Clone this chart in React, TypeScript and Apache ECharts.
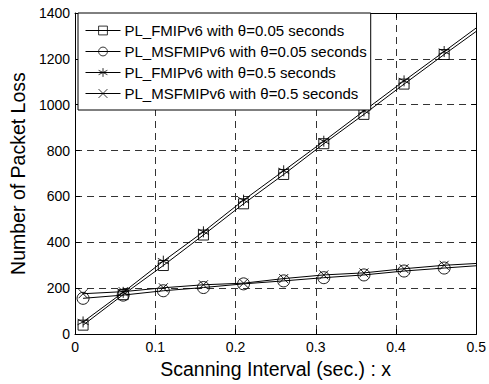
import React, { useEffect, useRef } from "react";
import * as echarts from "echarts";

const xValues = [0.01, 0.06, 0.11, 0.16, 0.21, 0.26, 0.31, 0.36, 0.41, 0.46, 0.5];
const fmipLow = [39, 172, 299, 432, 568, 696, 830, 958, 1090, 1219, 1320];
const msfmipLow = [156, 170, 189, 203, 219, 232, 246, 258, 275, 288, 298];
const fmipHigh = [53, 182, 318, 446, 584, 712, 841, 973, 1104, 1232, 1335];
const msfmipHigh = [176, 185, 202, 215, 222, 242, 258, 267, 285, 300, 308];
const seriesNames = [
  "PL_FMIPv6 with \u03b8=0.05 seconds",
  "PL_MSFMIPv6 with \u03b8=0.05 seconds",
  "PL_FMIPv6 with \u03b8=0.5 seconds",
  "PL_MSFMIPv6 with \u03b8=0.5 seconds",
];
const xTicks = [0, 0.1, 0.2, 0.3, 0.4, 0.5];
const yTicks = [0, 200, 400, 600, 800, 1000, 1200, 1400];

const STAR = "path://M0,-10L0,10M-8.66,-5L8.66,5M-8.66,5L8.66,-5";
const CROSS = "path://M-7,-7L7,7M-7,7L7,-7";

export default function App() {
  const ref = useRef<HTMLDivElement>(null);
  useEffect(() => {
    if (!ref.current) return;
    const chart = echarts.init(ref.current, undefined, { renderer: "svg" });
    const font = "Liberation Sans, Arial, sans-serif";
    const mk = (name: string, vals: number[], symbol: string, size: number) => ({
      name,
      type: "line",
      symbol,
      symbolSize: size,
      showAllSymbol: true,
      data: vals.map((v, i) =>
        i === vals.length - 1 ? { value: [xValues[i], v], symbol: "none" } : { value: [xValues[i], v] }
      ),
      lineStyle: { color: "#000", width: 1 },
      itemStyle: { color: "rgba(0,0,0,0)", borderColor: "#000", borderWidth: 0.9 },
      emphasis: { disabled: true },
    });
    const axisCommon = {
      axisLine: { show: true, onZero: false, lineStyle: { color: "#000", width: 1 } },
      axisTick: { show: true, inside: true, length: 5, lineStyle: { color: "#000" } },
    };
    chart.setOption({
      animation: false,
      backgroundColor: "#fff",
      grid: { left: 75, right: 12, top: 13, bottom: 45 },
      legend: {
        orient: "vertical",
        left: 78,
        top: 13,
        data: seriesNames,
        itemWidth: 35,
        itemHeight: 11,
        itemGap: 6,
        padding: [10, 4, 9, 7],
        borderColor: "#000",
        borderWidth: 1,
        backgroundColor: "#fff",
        lineStyle: { width: 1 },
        itemStyle: { borderWidth: 0.8 },
        textStyle: { fontFamily: font, fontSize: 15, color: "#000", padding: [0, 0, 0, -1], lineHeight: 15 },
        selectedMode: false,
      },
      xAxis: [
        {
          type: "value",
          min: 0,
          max: 0.5,
          interval: 0.1,
          ...axisCommon,
          axisLabel: {
            color: "#000",
            fontFamily: font,
            fontSize: 14,
            margin: 6,
            formatter: (v: number) => (xTicks.includes(Math.round(v * 10) / 10) ? String(Math.round(v * 10) / 10) : ""),
          },
          splitLine: { show: true, lineStyle: { color: "#333", type: [7, 5], width: 1 } },
          name: "Scanning Interval (sec.) : x",
          nameLocation: "middle",
          nameGap: 22,
          nameTextStyle: { fontFamily: font, fontSize: 19.5, color: "#000" },
        },
        {
          type: "value",
          position: "top",
          min: 0,
          max: 0.5,
          interval: 0.1,
          ...axisCommon,
          axisLabel: { show: false },
          splitLine: { show: false },
        },
      ],
      yAxis: [
        {
          type: "value",
          min: 0,
          max: 1400,
          interval: 200,
          ...axisCommon,
          axisLabel: {
            color: "#000",
            fontFamily: font,
            fontSize: 14,
            margin: 5,
            formatter: (v: number) => (yTicks.includes(v) ? String(v) : ""),
          },
          splitLine: { show: true, lineStyle: { color: "#333", type: [7, 5], width: 1 } },
          name: "Number of Packet Loss",
          nameLocation: "middle",
          nameGap: 44,
          nameTextStyle: { fontFamily: font, fontSize: 19.5, color: "#000" },
        },
        {
          type: "value",
          position: "right",
          min: 0,
          max: 1400,
          interval: 200,
          ...axisCommon,
          axisLabel: { show: false },
          splitLine: { show: false },
        },
      ],
      series: [
        mk(seriesNames[0], fmipLow, "rect", 10),
        mk(seriesNames[1], msfmipLow, "circle", 12),
        mk(seriesNames[2], fmipHigh, STAR, 11),
        mk(seriesNames[3], msfmipHigh, CROSS, 9),
      ],
    });
    return () => chart.dispose();
  }, []);
  return (
    <div
      ref={ref}
      style={{ position: "fixed", left: 0, top: 0, width: 489, height: 384 }}
    />
  );
}
